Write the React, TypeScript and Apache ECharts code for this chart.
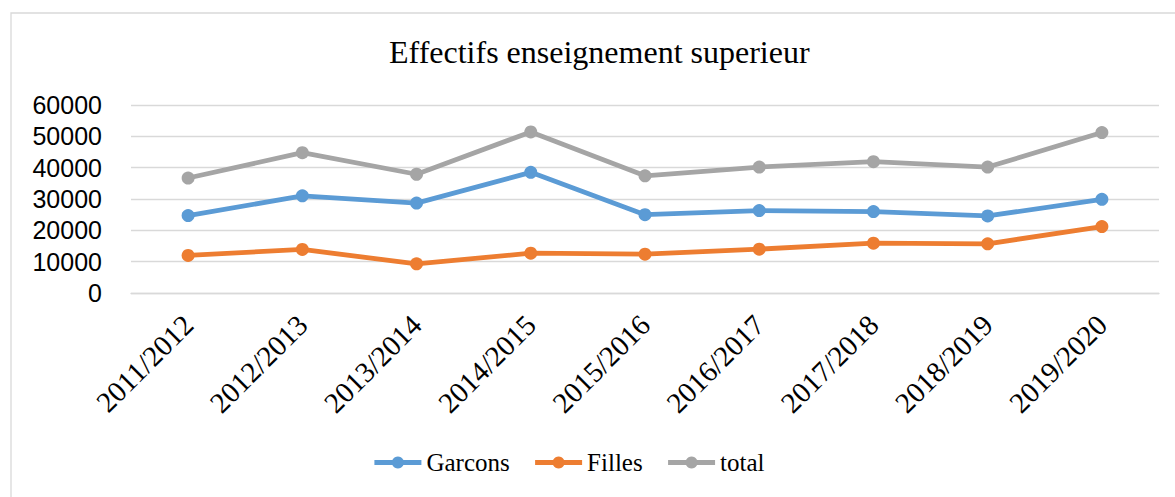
import React, { useEffect, useRef } from "react";
import * as echarts from "echarts";

const categories = [
  "2011/2012", "2012/2013", "2013/2014", "2014/2015", "2015/2016",
  "2016/2017", "2017/2018", "2018/2019", "2019/2020",
];
const garcons = [24700, 31000, 28700, 38500, 25000, 26300, 26000, 24600, 29900];
const filles = [12000, 13900, 9300, 12700, 12400, 14000, 15900, 15700, 21200];
const total = [36700, 44800, 37900, 51400, 37400, 40200, 41900, 40200, 51200];

const titleText = "Effectifs enseignement superieur";

export default function App() {
  const ref = useRef<HTMLDivElement>(null);
  useEffect(() => {
    if (!ref.current) return;
    const chart = echarts.init(ref.current, null, { renderer: "svg" });
    const serif = "'Liberation Serif', 'Times New Roman', serif";
    const mk = (name: string, data: number[], color: string) => ({
      name,
      type: "line",
      data,
      symbol: "circle",
      symbolSize: 13,
      lineStyle: { color, width: 4.8 },
      itemStyle: { color },
      emphasis: { disabled: true },
    });
    chart.setOption({
      animation: false,
      backgroundColor: "#ffffff",
      graphic: [
        {
          type: "rect",
          shape: { x: 11, y: 13, width: 1200, height: 520 },
          style: { fill: "none", stroke: "#d9d9d9", lineWidth: 1.3 },
          silent: true,
        },
      ],
      title: {
        text: titleText,
        left: 389,
        top: 36,
        padding: 0,
        textStyle: {
          fontFamily: serif,
          fontSize: 32,
          fontWeight: "normal",
          color: "#000000",
        },
      },
      legend: {
        left: 372,
        top: 450,
        padding: 0,
        itemWidth: 47,
        itemHeight: 15,
        itemGap: 23,
        lineStyle: { width: 4.8 },
        textStyle: { fontFamily: serif, fontSize: 25, color: "#000000" },
        data: ["Garcons", "Filles", "total"],
      },
      grid: { left: 131, right: 16, top: 105, bottom: 204, containLabel: false },
      xAxis: {
        type: "category",
        data: categories,
        boundaryGap: true,
        axisLine: { show: true, lineStyle: { color: "#d9d9d9", width: 1.3 } },
        axisTick: { show: false },
        axisLabel: {
          rotate: 45,
          margin: 27,
          interval: 0,
          fontFamily: serif,
          fontSize: 29,
          color: "#000000",
        },
      },
      yAxis: {
        type: "value",
        min: 0,
        max: 60000,
        interval: 10000,
        axisLine: { show: false },
        axisTick: { show: false },
        splitLine: { lineStyle: { color: "#d9d9d9", width: 1.3 } },
        axisLabel: {
          margin: 29,
          formatter: (v: number) => String(v),
          fontFamily: "'Liberation Sans', Arial, sans-serif",
          fontSize: 25,
          color: "#000000",
        },
      },
      series: [
        mk("Garcons", garcons, "#5b9bd5"),
        mk("Filles", filles, "#ed7d31"),
        mk("total", total, "#a5a5a5"),
      ],
    });
    return () => chart.dispose();
  }, []);
  return (
    <div
      ref={ref}
      style={{ position: "absolute", left: 0, top: 0, width: 1175, height: 497 }}
    />
  );
}
